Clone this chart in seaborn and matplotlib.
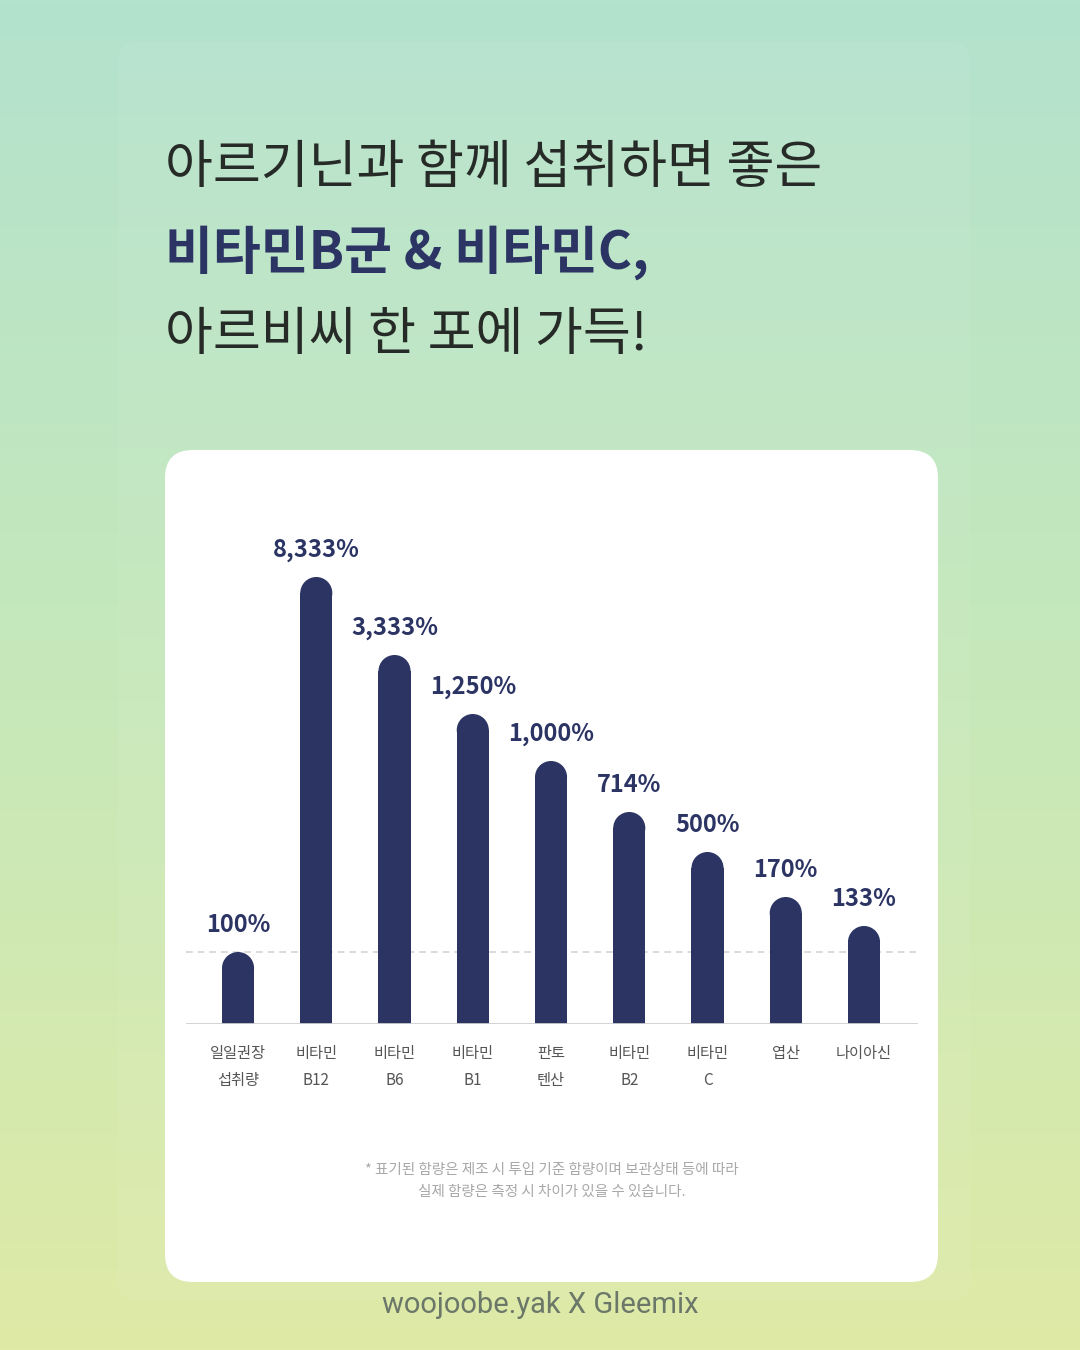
import numpy as np
import pandas as pd
import matplotlib.pyplot as plt
import seaborn as sns
from matplotlib.patches import FancyBboxPatch, Ellipse

# ── Données ──────────────────────────────────────────────────
categories = ["일일권장\n섭취량", "비타민\nB12", "비타민\nB6", "비타민\nB1", "판토\n텐산",
              "비타민\nB2", "비타민\nC", "엽산", "나이아신"]
value_labels = ["100%", "8,333%", "3,333%", "1,250%", "1,000%", "714%", "500%", "170%", "133%"]
# hauteurs visuelles des barres (non proportionnelles)
bar_heights = [72, 447, 369, 310, 263, 212, 172, 127, 98]
ref_height = 72  # ligne pointillée = 100%

title_lines = ["아르기닌과 함께 섭취하면 좋은", "비타민B군 & 비타민C,", "아르비씨 한 포에 가득!"]
footnote = "* 표기된 함량은 제조 시 투입 기준 함량이며 보관상태 등에 따라\n실제 함량은 측정 시 차이가 있을 수 있습니다."
credit = "woojoobe.yak X Gleemix"

NAVY = "#2b3463"

sns.set_theme(style="white")
plt.rcParams["font.family"] = ["Noto Sans CJK KR", "DejaVu Sans"]

fig = plt.figure(figsize=(10.8, 13.5), dpi=100)

# ── Fond dégradé + carte blanche ─────────────────────────────
bg = fig.add_axes([0, 0, 1, 1])
top_c = np.array([0xb3, 0xe2, 0xcd]) / 255
mid_c = np.array([0xc6, 0xe8, 0xba]) / 255
bot_c = np.array([0xdf, 0xea, 0xa6]) / 255
t = np.linspace(0, 1, 400)[:, None]
grad = np.where(t < 0.5, top_c + (mid_c - top_c) * (t / 0.5),
                mid_c + (bot_c - mid_c) * ((t - 0.5) / 0.5))
bg.imshow(grad[:, None, :], extent=[0, 1080, 1350, 0], aspect="auto")
bg.set_xlim(0, 1080)
bg.set_ylim(1350, 0)
bg.axis("off")
bg.add_patch(FancyBboxPatch((118, 42), 852, 1258, boxstyle="round,pad=0,rounding_size=20",
                            fc="white", ec="none", alpha=0.06))
bg.add_patch(FancyBboxPatch((165, 450), 773, 832, boxstyle="round,pad=0,rounding_size=28",
                            fc="white", ec="none"))

# Titre
bg.text(165, 168, title_lines[0], fontsize=37.5, color="#262b27", fontweight="light",
        va="center", ha="left")
bg.text(165, 253, title_lines[1], fontsize=37.5, color=NAVY, fontweight="bold",
        va="center", ha="left")
bg.text(165, 335, title_lines[2], fontsize=37.5, color="#262b27", fontweight="light",
        va="center", ha="left")

bg.text(552, 1181, footnote, fontsize=10.5, color="#a8a8a8", ha="center", va="center",
        linespacing=1.75)
bg.text(540, 1305, credit, fontsize=21, color="#6b7768", ha="center", va="center",
        family=["Roboto", "DejaVu Sans"])

# ── Graphique ────────────────────────────────────────────────
ax_left, ax_w = 186, 732
base_y, ax_h = 1024, 500
ax = fig.add_axes([ax_left / 1080, 1 - base_y / 1350, ax_w / 1080, ax_h / 1350])
ax.patch.set_alpha(0)

df = pd.DataFrame({"cat": categories, "h": bar_heights})
sns.barplot(data=df, x="cat", y="h", color=NAVY, width=0.41, saturation=1,
            linewidth=0, ax=ax)

ax.set_xlim(-0.665, 8.69)
ax.set_ylim(0, ax_h)
xr = ax.get_xlim()[1] - ax.get_xlim()[0]

# sommets arrondis
for p in ax.patches:
    x0, w, h = p.get_x(), p.get_width(), p.get_height()
    r_px = w / xr * ax_w / 2
    p.set_height(h - r_px)
    ax.add_patch(Ellipse((x0 + w / 2, h - r_px), w, 2 * r_px, fc=NAVY, ec="none", lw=0))

for i, (h, lab) in enumerate(zip(bar_heights, value_labels)):
    ax.text(i, h + 15, lab, ha="center", va="bottom", fontsize=17, fontweight="bold",
            color=NAVY)

ax.axhline(ref_height, color="#d4d4d4", lw=1.2, ls=(0, (4, 3)), zorder=0)
ax.axhline(0, color="#cfcfcf", lw=2, zorder=3)

sns.despine(ax=ax, left=True, bottom=True)
ax.set_yticks([])
ax.set_xlabel("")
ax.set_ylabel("")
ax.tick_params(axis="x", length=0, pad=15)
ax.set_xticks(range(len(categories)))
ax.set_xticklabels(categories, fontsize=11, color="#555555", linespacing=1.75)

fig.savefig("out.png", dpi=100)
